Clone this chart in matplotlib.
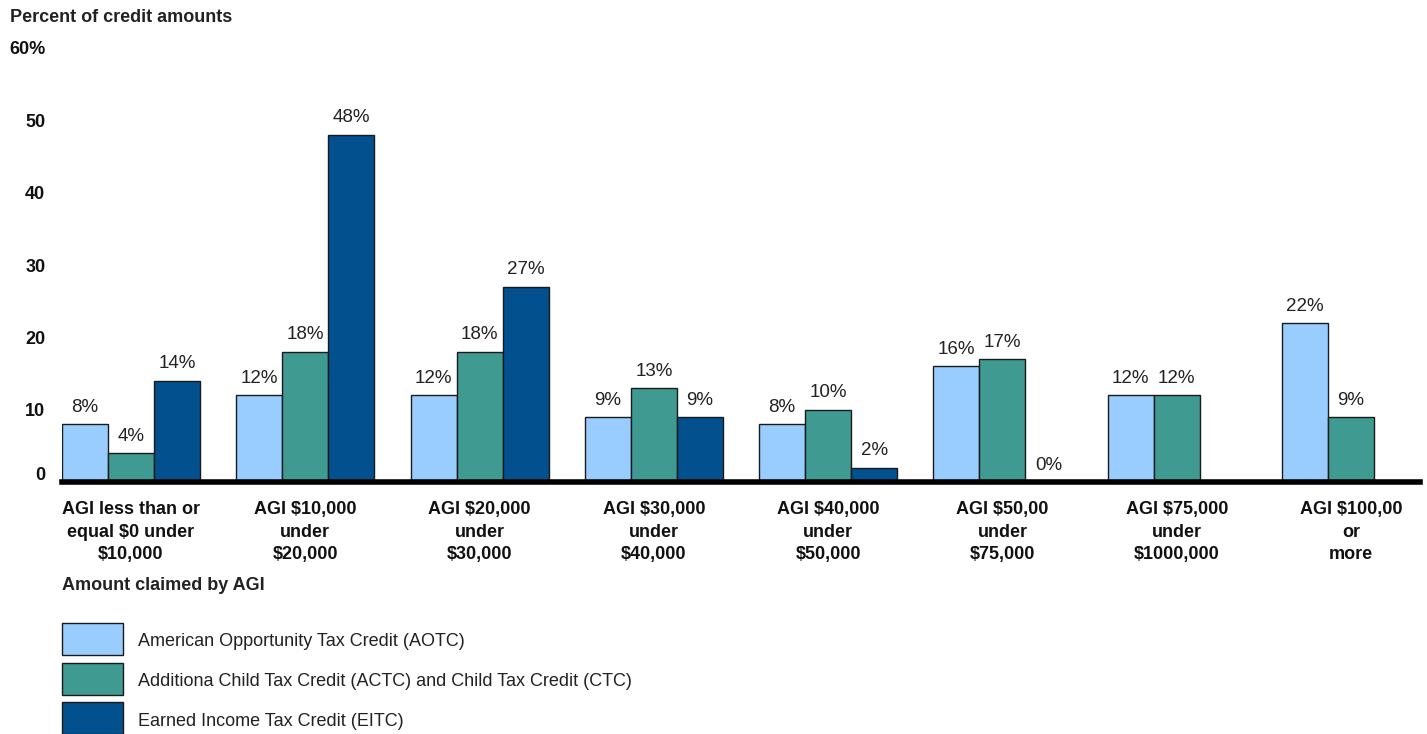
import numpy as np
import matplotlib
matplotlib.use("Agg")
import matplotlib.pyplot as plt
from matplotlib.patches import Rectangle
from matplotlib.transforms import ScaledTranslation

plt.rcParams['font.family'] = ['Liberation Sans', 'DejaVu Sans']

categories = [
    "AGI less than or\nequal $0 under\n$10,000",
    "AGI $10,000\nunder\n$20,000",
    "AGI $20,000\nunder\n$30,000",
    "AGI $30,000\nunder\n$40,000",
    "AGI $40,000\nunder\n$50,000",
    "AGI $50,00\nunder\n$75,000",
    "AGI $75,000\nunder\n$1000,000",
    "AGI $100,00\nor\nmore",
]
aotc = [8, 12, 12, 9, 8, 16, 12, 22]
actc = [4, 18, 18, 13, 10, 17, 12, 9]
eitc = [14, 48, 27, 9, 2, 0, np.nan, np.nan]

series_names = [
    "American Opportunity Tax Credit (AOTC)",
    "Additiona Child Tax Credit (ACTC) and Child Tax Credit (CTC)",
    "Earned Income Tax Credit (EITC)",
]
colors = ["#99CCFF", "#3F9A91", "#03508F"]
yticks = [0, 10, 20, 30, 40, 50, 60]
ytick_labels = ["0", "10", "20", "30", "40", "50", "60%"]

W, H = 1427, 734
fig = plt.figure(figsize=(W / 100, H / 100), dpi=100)
ax = fig.add_axes([62 / W, 1 - 482 / H, (1420 - 62) / W, (482 - 48) / H])

x = np.arange(len(categories))
w = 46 / 174.3
for k, (vals, col) in enumerate(zip([aotc, actc, eitc], colors)):
    pos = x + (k - 1) * w
    ax.bar(pos, vals, width=w, color=col, edgecolor="#1a1a1a", linewidth=1)
    for p, v in zip(pos, vals):
        if np.isnan(v):
            continue
        ax.annotate(f"{int(v)}%", (p, v), xytext=(0, 6), textcoords="offset points",
                    ha="center", va="bottom", fontsize=13.5, color="#222222")

ax.axhline(0, color="black", lw=4, zorder=5, clip_on=False)
ax.set_xlim(-1.5 * w, len(categories) - 1 + 1.5 * w)
ax.set_ylim(0, 60)
ax.set_yticks(yticks)
ax.set_yticklabels(ytick_labels, fontsize=13, fontweight="bold")
ax.tick_params(axis="y", length=0, pad=12, labelcolor="#111111")
ax.set_xticks(x)
ax.set_xticklabels(categories, fontsize=13, fontweight="bold", linespacing=1.4)
ax.tick_params(axis="x", length=0, pad=14, labelcolor="#111111")
for s in ax.spines.values():
    s.set_visible(False)

# nudge the 0 label above the thick baseline
zero_lab = ax.get_yticklabels()[0]
zero_lab.set_transform(zero_lab.get_transform() + ScaledTranslation(0, 6 / 72, fig.dpi_scale_trans))

fig.text(10 / W, 1 - 17 / H, "Percent of credit amounts", fontsize=13, fontweight="bold",
         ha="left", va="center", color="#222222")
fig.text(62 / W, 1 - 585 / H, "Amount claimed by AGI", fontsize=13, fontweight="bold",
         ha="left", va="center", color="#222222")

# legend drawn as boxes + text
for i, (name, col) in enumerate(zip(series_names, colors)):
    top = 623 + i * 39.5
    fig.patches.append(Rectangle((62 / W, 1 - (top + 32) / H), 61 / W, 32 / H,
                                 transform=fig.transFigure, facecolor=col,
                                 edgecolor="#1a1a1a", linewidth=1))
    fig.text(138 / W, 1 - (top + 19) / H, name, fontsize=13, ha="left", va="center",
             color="#222222")

fig.savefig("out.png", dpi=100)
